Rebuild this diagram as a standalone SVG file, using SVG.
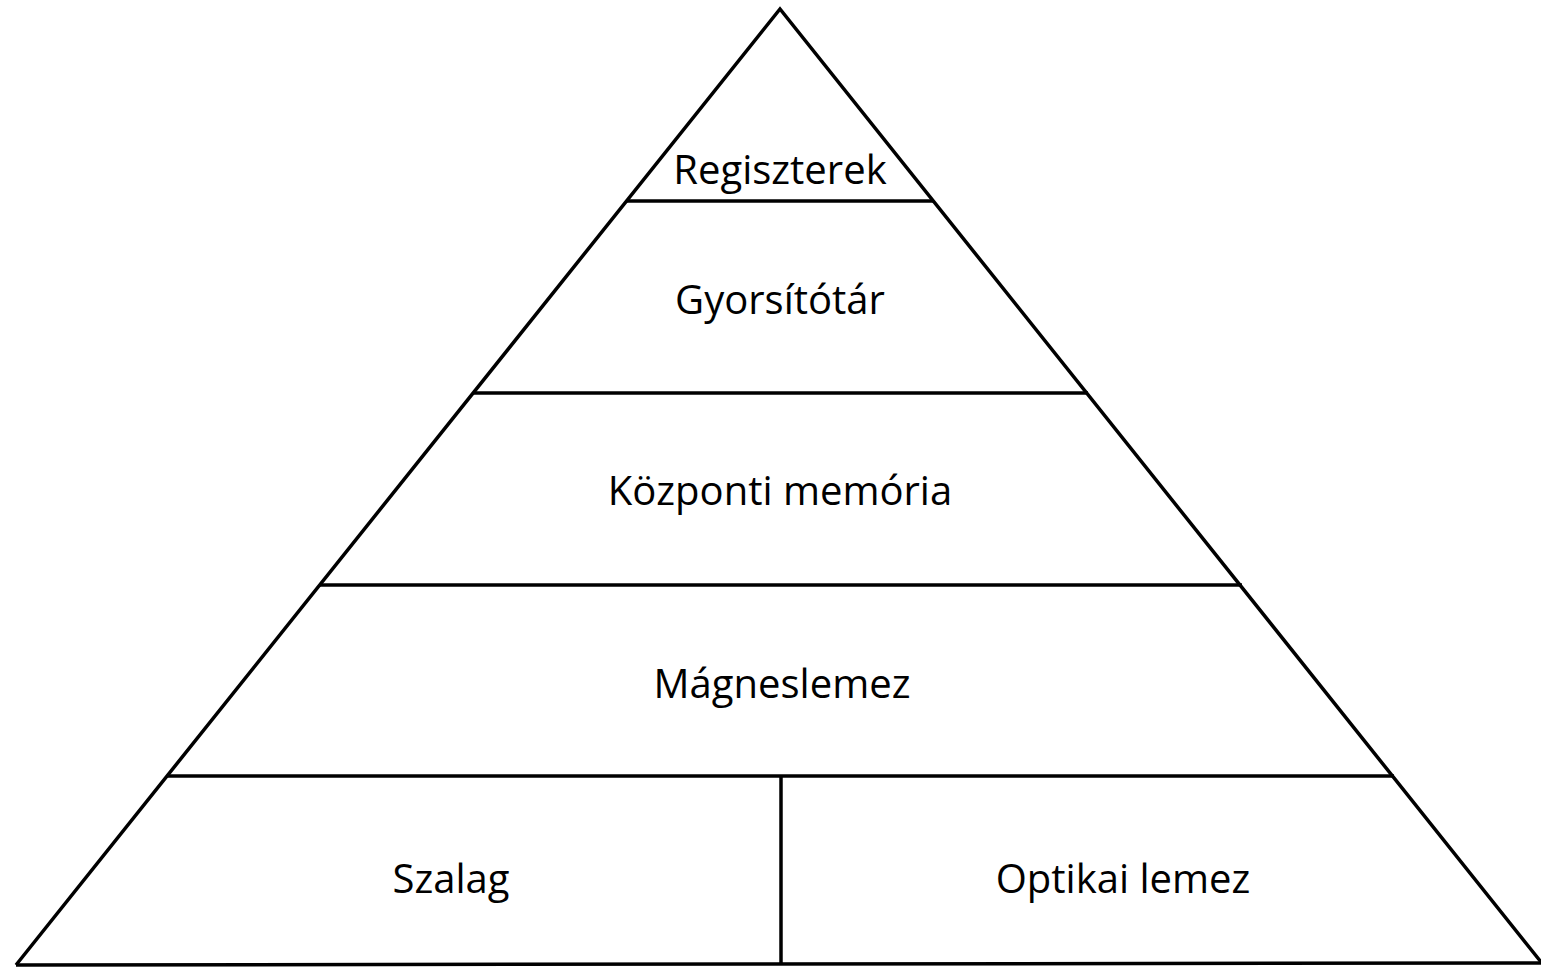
<svg xmlns="http://www.w3.org/2000/svg" width="1541" height="967" viewBox="0 0 1541 967">
  <style>
    .edge { fill: none; stroke: #000; stroke-width: 3.5; stroke-linejoin: miter; }
    .label { font-family: "Open Sans", "Noto Sans", "Liberation Sans", sans-serif; font-size: 40px; font-weight: 500; fill: #000; text-anchor: middle; }
  </style>
  <rect width="1541" height="967" fill="#fff"/>
  <!-- outline of the pyramid and the level dividers -->
  <g id="connectors">
    <polyline class="edge" points="16,965 780,9 1541,962"/>
    <line class="edge" x1="16" y1="965" x2="1541" y2="963"/>
    <line class="edge" x1="626" y1="201" x2="934" y2="201"/>
    <line class="edge" x1="473" y1="393" x2="1088" y2="393"/>
    <line class="edge" x1="320" y1="585" x2="1242" y2="585"/>
    <line class="edge" x1="167" y1="776" x2="1394" y2="776"/>
    <line class="edge" x1="781" y1="776" x2="781" y2="965"/>
  </g>
  <g id="regiszterek"><text class="label" x="780" y="184">Regiszterek</text></g>
  <g id="gyorsitotar"><text class="label" x="780" y="314">Gyorsítótár</text></g>
  <g id="kozponti-memoria"><text class="label" x="780" y="505">Központi memória</text></g>
  <g id="magneslemez"><text class="label" x="782" y="698">Mágneslemez</text></g>
  <g id="szalag"><text class="label" x="451" y="893">Szalag</text></g>
  <g id="optikai-lemez"><text class="label" x="1123" y="893">Optikai lemez</text></g>
</svg>
